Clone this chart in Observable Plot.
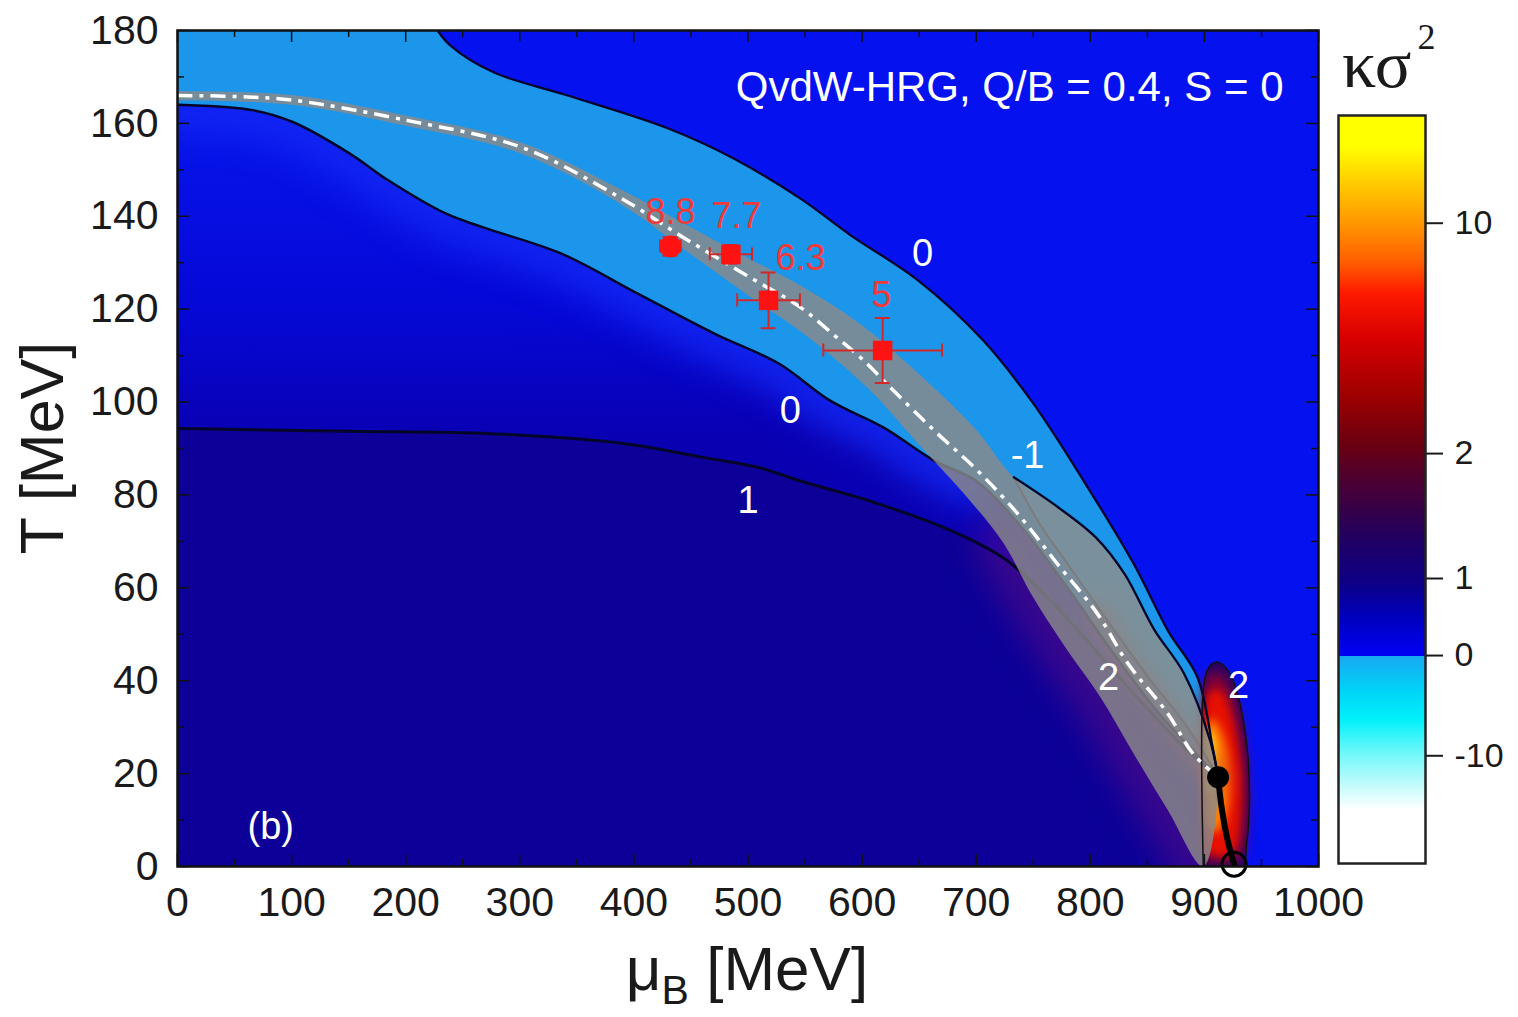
<!DOCTYPE html>
<html>
<head>
<meta charset="utf-8">
<script src="https://cdn.jsdelivr.net/npm/d3@7"></script>
<script src="https://cdn.jsdelivr.net/npm/@observablehq/plot@0.6"></script>
<style>
  html, body { margin: 0; padding: 0; background: #ffffff; overflow: hidden; }
  #wrap { position: relative; width: 1518px; height: 1017px; }
  #wrap svg { position: absolute; top: 0; }
</style>
</head>
<body>
<div id="wrap"></div>
<script>
// ---------------- data (mu_B [MeV], T [MeV]) ----------------
const upperZeroContour = [[228,180],[239,176.8],[277,171],[342,166],[429,159],[487,152.5],[546,143.8],[590,135.9],[649,126.2],[706,113.3],[750,99.7],[794,83.1],[838,65.2],[868,50.8],[894,40.7],[907,26],[912,19.2]];
const lowerZeroContour = [[0,164],[67,162.8],[101,160.3],[151,153.5],[185,147.7],[235,140.6],[268,137.6],[336,132],[403,123.4],[470,114.8],[527,108.3],[572,100.3],[619,94.5],[663,87.4],[700,83],[740,73],[780,60],[820,46],[860,33],[890,25],[912,19.2]];
const oneContour = [[0,94.3],[152,93.7],[274,93.2],[391,91.1],[458,88.2],[508,86],[546,83],[613,78.2],[677,72.4],[727,65.9],[770,56],[810,45],[850,34],[885,25],[912,19.2]];
const minusOneLeft = [[733,83.8],[755,74],[782,64.5],[812,54],[850,41],[885,30],[912,19.2]];
const minusOneRight = [[733,83.8],[772,77.3],[805,70.8],[830,63],[856,51],[882,41.6],[905,27.1],[912,19.2]];
const freezeOutLine = [[0,166],[50,165.8],[101,165],[202,160.6],[302,154.8],[388,144],[443,135.5],[502,126.8],[546,120.4],[575,114.5],[599,109.5],[625,103.1],[663,93.9],[701,85.3],[739,75.2],[771,65.2],[806,54.5],[833,43.7],[868,32.9],[890,24.3],[912,19.2]];
const bandUpper = [[0,167],[100,166.1],[200,161.7],[300,156],[390,145.6],[450,137.6],[500,131],[550,124.5],[600,116.5],[650,106],[700,94]];
const bandLower = [[0,165],[100,164],[200,159.5],[300,153.6],[390,142.4],[450,131.8],[500,123],[550,114.5],[605,103],[649,91.1],[692,79.5],[724,69.6],[750,57.9],[780,46.5],[809,36.4],[838,24.3],[868,12.1],[899,0]];
const transitionLine = [[912,19.2],[915.5,12],[920.5,5.5],[926,0.5]];
const criticalPoint = [[912,19.2]];
const groundStatePoint = [[926,0.5]];
// kappa*sigma^2 peak around the critical point (nested levels)
const peakLevel2 = [[899,0],[899,38],[903,42.5],[910,44],[918,43],[926,39.5],[933,33],[938,24],[939.5,14],[937,5],[933,0]];
const peakMaroon = [[900,1],[900,39],[906,41.5],[914,41.5],[923,38],[931,31],[936,22],[937,12],[934,4],[929,1]];
const peakRed = [[901,3],[901,35],[907,38],[915,37.5],[923,33],[929,26],[932,18],[931,10],[927,4],[918,2]];
const peakOrange = [[902,9],[902,30],[907,32],[913,30],[919,26],[922,19],[921,13],[916,9],[909,7]];
const peakYellow = [[902,17],[902,28],[905,29.5],[909,27],[911,22],[909,17],[905,15.5]];

// freeze-out points
const energyLabels = ["8.8","7.7","6.3","5"];
const freezeMu = [432,485,518,618];
const freezeT = [133.5,131.8,121.9,111.1];
const freezeMuErr = [9,18.5,27.5,52];
const freezeTErr = [2,2,6,7];
const freezeSymbol = ["circle","square","square","square"];
const energyLabelMu = [432,490,546,617];
const energyLabelT = [140.8,140,130.9,123];

// contour labels
const contourLabels = ["0","0","1","-1","2","2"];
const contourLabelMu = [653,537,500,745,816,930];
const contourLabelT = [131.9,98.2,78.8,88.5,40.7,38.8];

// ticks
const xMajorTicks = [0,100,200,300,400,500,600,700,800,900,1000];
const xMinorTicks = [50,150,250,350,450,550,650,750,850,950];
const yMajorTicks = [0,20,40,60,80,100,120,140,160,180];
const yMinorTicks = [10,30,50,70,90,110,130,150,170];

// colour bar (kappa sigma^2 values and where they sit along the bar, 0 = bottom, 1 = top)
const cbTicks = [10,2,1,0,-10];
const cbDomain = [-20,-10,0,1,2,10,20];
const cbFraction = [0,0.144,0.278,0.381,0.548,0.856,1];
const cbStopOffsets = [0,0.072,0.102,0.147,0.193,0.230,0.2779,0.278,0.282,0.328,0.373,0.433,0.477,0.515,0.560,0.628,0.703,0.763,0.801,0.853,0.906,0.959,1];
const cbStopColors = ["#ffffff","#ffffff","#c8fcfc","#70f8fa","#00f0fa","#00d4f8","#18a8f0","#0000f2","#0000f0","#0000c0","#0c0088","#200062","#380045","#4e0030","#6a0010","#a00000","#d80000","#ff1a00","#ff5a00","#ff9400","#ffc800","#ffff00","#ffff00"];

// ---------------- drawing ----------------
const FONT = "'Liberation Sans', Arial, Helvetica, sans-serif";
const W = 1518, H = 1017;
const mL = 177, mR = 200, mT = 30, mB = 151;
const innerW = W - mL - mR, innerH = H - mT - mB;

const toPts = a => a.map(([mu, T]) => ({mu, T}));
const closed = a => [...a, a[0]];

// polygons are closed a little outside the frame (clipped) so the smooth outline has no corner artefacts
const midRegion = [...lowerZeroContour, ...transitionLine.slice(1), [926,-5], [-20,-5], [-20,164]];
const navyRegion = [...oneContour, ...transitionLine.slice(1), [926,-5], [-20,-5], [-20,94.3]];
const lightRegion = [...upperZeroContour, ...lowerZeroContour.slice(0, -1).reverse(), [-20,164], [-20,185], [228,185]];
const minusOneRegion = [...minusOneLeft, ...minusOneRight.slice(1, -1).reverse()];
const bandRegion = [[-20,167], ...bandUpper, ...minusOneRight, ...bandLower.slice().reverse(), [-20,165]];

const points = energyLabels.map((label, i) => ({
  label, mu: freezeMu[i], T: freezeT[i], muErr: freezeMuErr[i], TErr: freezeTErr[i],
  symbol: freezeSymbol[i], lmu: energyLabelMu[i], lT: energyLabelT[i]
}));
const cLabels = contourLabels.map((t, i) => ({t, mu: contourLabelMu[i], T: contourLabelT[i]}));

function poly(pts, fill, extra = {}) {
  return Plot.line(toPts(pts), {x: "mu", y: "T", fill, stroke: "none", curve: "catmull-rom", clip: true, ...extra});
}
function curve(pts, stroke, strokeWidth, extra = {}) {
  return Plot.line(toPts(pts), {x: "mu", y: "T", stroke, strokeWidth, curve: "catmull-rom", clip: true, ...extra});
}

const red = "#ff1212", errRed = "#d02828";
const capT = 1.4, capMu = 6.5;

const chart = Plot.plot({
  width: W, height: H,
  marginLeft: mL, marginRight: mR, marginTop: mT, marginBottom: mB,
  x: {domain: [0, 1000]},
  y: {domain: [0, 180]},
  style: {fontFamily: FONT, fontSize: "41px", color: "#1a1a1a", background: "transparent", overflow: "visible"},
  marks: [
    Plot.frame({fill: "#0512ef", stroke: "none"}),
    poly(midRegion, "url(#midgrad)"),
    curve(lowerZeroContour.filter(d => d[0] <= 720), "#1428f4", 56, {strokeOpacity: 0.8, imageFilter: "blur(16px)"}),
    poly(navyRegion, "#0c0098"),
    curve(bandLower.filter(d => d[0] >= 700), "#6c1080", 56, {strokeOpacity: 0.45, imageFilter: "blur(16px)"}),
    poly(lightRegion, "#1c96ea"),
    poly(minusOneRegion, "#34b2f0"),
    // peak of kappa sigma^2 near critical point
    poly(peakLevel2, "#2a0062"),
    poly(peakMaroon, "#8c0030", {imageFilter: "blur(6px)"}),
    poly(peakRed, "#e81000", {imageFilter: "blur(4px)"}),
    poly(peakOrange, "#ff8000", {imageFilter: "blur(4px)"}),
    poly(peakYellow, "#ffe020", {imageFilter: "blur(3px)"}),
    curve(freezeOutLine.filter(d => d[0] >= 790), "#c83838", 26, {strokeOpacity: 0.55, imageFilter: "blur(10px)"}),
    // contour lines (beneath band)
    curve(oneContour, "#05052a", 3),
    curve(lowerZeroContour, "#05052a", 2.5),
    curve(minusOneLeft, "#3a3a3a", 2),
    // freeze-out band
    poly(bandRegion, "#8a8a8a", {fillOpacity: 0.82}),
    curve(upperZeroContour, "#05052a", 2.3),
    curve(minusOneRight, "#05052a", 2.3),
    curve(closed(peakLevel2), "#111111", 1.5),
    // freeze-out curve
    curve(freezeOutLine, "#ffffff", 3.5, {strokeDasharray: "15,7,4,7", strokeLinecap: "butt"}),
    // transition line and points
    curve(transitionLine, "#000000", 6, {clip: false}),
    Plot.dot(toPts(criticalPoint), {x: "mu", y: "T", r: 11, fill: "#000000"}),
    Plot.dot(toPts(groundStatePoint), {x: "mu", y: "T", r: 12, fill: "none", stroke: "#000000", strokeWidth: 3}),
    // inward ticks
    Plot.tickX(xMajorTicks, {x: d => d, insetTop: innerH - 12, stroke: "#111", strokeWidth: 1.5}),
    Plot.tickX(xMajorTicks, {x: d => d, insetBottom: innerH - 12, stroke: "#111", strokeWidth: 1.5}),
    Plot.tickX(xMinorTicks, {x: d => d, insetTop: innerH - 7, stroke: "#111", strokeWidth: 1.5}),
    Plot.tickX(xMinorTicks, {x: d => d, insetBottom: innerH - 7, stroke: "#111", strokeWidth: 1.5}),
    Plot.tickY(yMajorTicks, {y: d => d, insetRight: innerW - 12, stroke: "#111", strokeWidth: 1.5}),
    Plot.tickY(yMajorTicks, {y: d => d, insetLeft: innerW - 12, stroke: "#111", strokeWidth: 1.5}),
    Plot.tickY(yMinorTicks, {y: d => d, insetRight: innerW - 7, stroke: "#111", strokeWidth: 1.5}),
    Plot.tickY(yMinorTicks, {y: d => d, insetLeft: innerW - 7, stroke: "#111", strokeWidth: 1.5}),
    Plot.frame({stroke: "#111", strokeWidth: 2.5}),
    Plot.axisX({ticks: xMajorTicks, tickSize: 0, tickPadding: 20, label: null, tickFormat: d => String(d), fontSize: 41}),
    Plot.axisY({ticks: yMajorTicks, tickSize: 0, tickPadding: 19, label: null, tickFormat: d => String(d), fontSize: 41}),
    // freeze-out data points with error bars
    Plot.ruleY(points, {y: "T", x1: d => d.mu - d.muErr, x2: d => d.mu + d.muErr, stroke: errRed, strokeWidth: 2}),
    Plot.ruleX(points, {x: "mu", y1: d => d.T - d.TErr, y2: d => d.T + d.TErr, stroke: errRed, strokeWidth: 2}),
    Plot.ruleX(points, {x: d => d.mu - d.muErr, y1: d => d.T - capT, y2: d => d.T + capT, stroke: errRed, strokeWidth: 2}),
    Plot.ruleX(points, {x: d => d.mu + d.muErr, y1: d => d.T - capT, y2: d => d.T + capT, stroke: errRed, strokeWidth: 2}),
    Plot.ruleY(points, {y: d => d.T - d.TErr, x1: d => d.mu - capMu, x2: d => d.mu + capMu, stroke: errRed, strokeWidth: 2}),
    Plot.ruleY(points, {y: d => d.T + d.TErr, x1: d => d.mu - capMu, x2: d => d.mu + capMu, stroke: errRed, strokeWidth: 2}),
    Plot.dot(points.filter(d => d.symbol === "circle"), {x: "mu", y: "T", r: 11, fill: red, symbol: "circle"}),
    Plot.dot(points.filter(d => d.symbol === "square"), {x: "mu", y: "T", r: 11, fill: red, symbol: "square"}),
    Plot.text(points, {x: "lmu", y: "lT", text: "label", fill: "#f03a3a", fontSize: 36}),
    // contour labels
    Plot.text(cLabels, {x: "mu", y: "T", text: "t", fill: "#ffffff", fontSize: 38}),
    Plot.text(["QvdW-HRG, Q/B = 0.4, S = 0"], {frameAnchor: "top-right", dx: -35, dy: 57, lineAnchor: "middle", textAnchor: "end", fill: "#ffffff", fontSize: 42}),
    Plot.text(["(b)"], {frameAnchor: "bottom-left", dx: 70, dy: -40, lineAnchor: "middle", textAnchor: "start", fill: "#ffffff", fontSize: 38})
  ]
});

const wrap = document.getElementById("wrap");
wrap.appendChild(chart);
chart.style.left = "0px";

const s = d3.select(chart);
const yS = chart.scale("y");
const defs = s.insert("defs", ":first-child");
const mg = defs.append("linearGradient").attr("id", "midgrad").attr("gradientUnits", "userSpaceOnUse")
  .attr("x1", 0).attr("x2", 0).attr("y1", yS.apply(165)).attr("y2", yS.apply(92));
mg.append("stop").attr("offset", 0).attr("stop-color", "#0716ee");
mg.append("stop").attr("offset", 0.62).attr("stop-color", "#0508d6");
mg.append("stop").attr("offset", 1).attr("stop-color", "#0900b2");

// axis titles
s.append("text").attr("transform", "translate(63,448) rotate(-90)")
  .attr("text-anchor", "middle").attr("font-family", FONT).attr("font-size", 61).attr("fill", "#1a1a1a")
  .text("T [MeV]");
const xt = s.append("text").attr("x", 747).attr("y", 990).attr("text-anchor", "middle")
  .attr("font-family", FONT).attr("font-size", 62).attr("fill", "#1a1a1a");
xt.append("tspan").text("μ");
xt.append("tspan").attr("font-size", 41).attr("dy", 14).text("B");
xt.append("tspan").attr("dy", -14).text(" [MeV]");

// ---------------- colour bar ----------------
const cbPos = d3.scaleLinear().domain(cbDomain).range(cbFraction);
const cbLabelOf = new Map(cbTicks.map(k => [cbPos(k), String(k)]));
const cb = Plot.plot({
  width: 198, height: H,
  marginLeft: 18, marginRight: 93, marginTop: 115, marginBottom: 154,
  x: {domain: [0, 1], axis: null},
  y: {domain: [0, 1]},
  style: {fontFamily: FONT, fontSize: "34px", color: "#1a1a1a", background: "transparent", overflow: "visible"},
  marks: [
    Plot.frame({fill: "url(#cbgrad)", stroke: "#222", strokeWidth: 2.5}),
    Plot.axisY({anchor: "right", ticks: cbTicks.map(k => cbPos(k)), tickSize: 17, tickPadding: 12, label: null,
      tickFormat: d => cbLabelOf.get(d), fontSize: 34, strokeWidth: 2})
  ]
});
wrap.appendChild(cb);
cb.style.left = "1320px";
const cs = d3.select(cb);
const cg = cs.insert("defs", ":first-child").append("linearGradient").attr("id", "cbgrad")
  .attr("x1", 0).attr("y1", 1).attr("x2", 0).attr("y2", 0);
cbStopOffsets.forEach((o, i) => cg.append("stop").attr("offset", o).attr("stop-color", cbStopColors[i]));
const ct = cs.append("text").attr("x", 22).attr("y", 87).attr("text-anchor", "start")
  .attr("font-family", "'Liberation Serif', 'DejaVu Serif', serif")
  .attr("font-size", 68).attr("fill", "#1a1a1a");
ct.append("tspan").text("κσ");
ct.append("tspan").attr("font-size", 36).attr("dy", -38).attr("dx", 6).text("2");
</script>
</body>
</html>
